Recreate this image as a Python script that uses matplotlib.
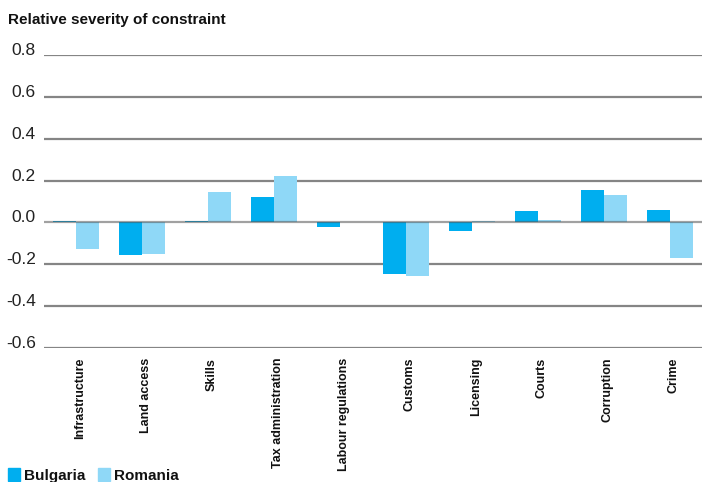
import numpy as np
import matplotlib.pyplot as plt
import matplotlib.transforms as mtransforms

categories = ['Infrastructure', 'Land access', 'Skills', 'Tax administration',
              'Labour regulations', 'Customs', 'Licensing', 'Courts',
              'Corruption', 'Crime']
bulgaria = [0.008, -0.158, 0.005, 0.123, -0.024, -0.245, -0.040, 0.056, 0.156, 0.061]
romania = [-0.126, -0.149, 0.147, 0.223, 0.003, -0.254, 0.008, 0.013, 0.132, -0.168]
yticks = [0.8, 0.6, 0.4, 0.2, 0.0, -0.2, -0.4, -0.6]

BG_COLOR = '#00aeef'
RO_COLOR = '#8fd8f7'
GRID_COLOR = '#858585'

plt.rcParams['font.family'] = ['Liberation Sans', 'DejaVu Sans']

fig = plt.figure(figsize=(7.02, 4.82), dpi=100)
ax = fig.add_axes([44 / 702, 134 / 482, 658 / 702, 293 / 482])

x = np.arange(len(categories))
w = 0.35
ax.bar(x - w / 2, bulgaria, w, color=BG_COLOR, zorder=2, linewidth=0)
ax.bar(x + w / 2, romania, w, color=RO_COLOR, zorder=2, linewidth=0)

for t in yticks:
    if t == 0:
        ax.axhline(t, color='#555555', lw=1.6, zorder=3, alpha=0.55)
    else:
        ax.axhline(t, color=GRID_COLOR, lw=1.6, zorder=1)

ax.set_xlim(-0.485, len(categories) - 0.515)
ax.set_ylim(-0.6, 0.8)
ax.set_yticks(yticks)
ax.set_yticklabels(['%.1f' % t for t in yticks], fontsize=12.5, color='#222222')
for lab in ax.get_yticklabels():
    lab.set_va('baseline')
ax.tick_params(axis='y', length=0, pad=6)
ax.set_xticks(x)
ax.set_xticklabels(categories, rotation=90, fontsize=9, fontweight='bold',
                   color='#111111', va='top')
ax.tick_params(axis='x', length=0, pad=7)
shift = mtransforms.ScaledTranslation(4 / 100, 0, fig.dpi_scale_trans)
for lab in ax.get_xticklabels():
    lab.set_transform(lab.get_transform() + shift)
for s in ax.spines.values():
    s.set_visible(False)

fig.text(8 / 702, 1 - 20 / 482, 'Relative severity of constraint', fontsize=11,
         fontweight='bold', color='#111111', va='center', ha='left')

# legend at bottom left
fig.patches.append(plt.Rectangle((8 / 702, 1 - 481 / 482), 12 / 702, 13 / 482,
                                 transform=fig.transFigure, color=BG_COLOR))
fig.text(24 / 702, 1 - 476 / 482, 'Bulgaria', fontsize=11, fontweight='bold',
         color='#111111', va='center', ha='left')
fig.patches.append(plt.Rectangle((98 / 702, 1 - 481 / 482), 12 / 702, 13 / 482,
                                 transform=fig.transFigure, color=RO_COLOR))
fig.text(114 / 702, 1 - 476 / 482, 'Romania', fontsize=11, fontweight='bold',
         color='#111111', va='center', ha='left')

fig.savefig('out.png', dpi=100)
